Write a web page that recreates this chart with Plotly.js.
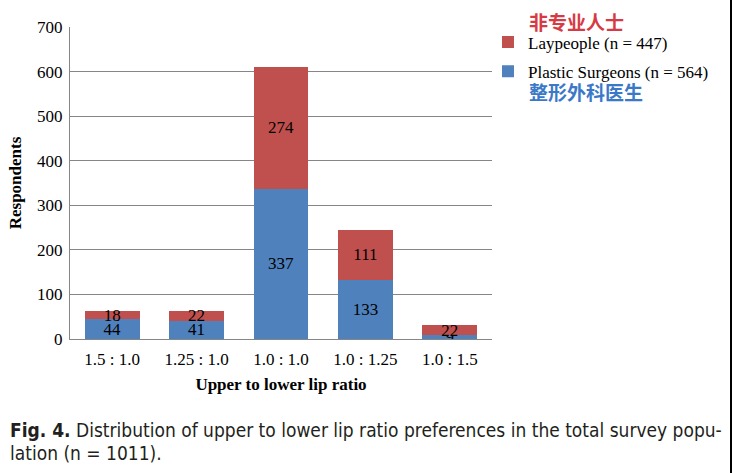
<!DOCTYPE html>
<html>
<head>
<meta charset="utf-8">
<script src="https://cdn.plot.ly/plotly-3.0.1.min.js"></script>
<style>
html,body{margin:0;padding:0;background:#000;}
#chart{width:730px;height:473px;background:#fff;}
</style>
</head>
<body>
<div id="chart"></div>
<script>
const categories = ["1.5 : 1.0", "1.25 : 1.0", "1.0 : 1.0", "1.0 : 1.25", "1.0 : 1.5"];
const surgeons = [44, 41, 337, 133, 9];
const laypeople = [18, 22, 274, 111, 22];
const surgeonsName = "Plastic Surgeons (n = 564)";
const laypeopleName = "Laypeople (n = 447)";
const captionLine1 = "<b>Fig. 4.</b> Distribution of upper to lower lip ratio preferences in the total survey popu-";
const captionLine2 = "lation (n = 1011).";

const serif = "Liberation Serif, Times New Roman, serif";
const narrow = "Liberation Sans Narrow, DejaVu Sans Condensed, Arial Narrow, sans-serif";

const traces = [
  {
    type: "bar", x: categories, y: surgeons, name: surgeonsName,
    marker: {color: "#4F81BD", line: {width: 0}},
    text: surgeons.map(String), textposition: "inside", insidetextanchor: "middle", textangle: 0,
    textfont: {family: serif, size: 17, color: "#000"}, constraintext: "none",
    legendgroup: "b", legendrank: 2, hoverinfo: "none"
  },
  {
    type: "bar", x: categories, y: laypeople, name: laypeopleName,
    marker: {color: "#C0504D", line: {width: 0}},
    text: laypeople.map(String), textposition: "inside", insidetextanchor: "middle", textangle: 0,
    textfont: {family: serif, size: 17, color: "#000"}, constraintext: "none",
    legendgroup: "a", legendrank: 1, hoverinfo: "none"
  }
];

const layout = {
  width: 730, height: 473,
  margin: {l: 70, r: 238, t: 27, b: 134},
  paper_bgcolor: "#fff", plot_bgcolor: "#fff",
  barmode: "stack", bargap: 0.35,
  uniformtext: {minsize: 17, mode: "show"},
  font: {family: serif, size: 17, color: "#000"},
  xaxis: {
    type: "category", showline: true, linecolor: "#868686", linewidth: 1,
    ticks: "", ticklabelstandoff: 5, tickfont: {family: serif, size: 17, color: "#000"},
    title: {text: "<b>Upper to lower lip ratio</b>", font: {family: serif, size: 17, color: "#000"}, standoff: 9},
    fixedrange: true
  },
  yaxis: {
    range: [0, 700], dtick: 100, showgrid: true, gridcolor: "#868686", gridwidth: 1,
    showline: true, linecolor: "#868686", linewidth: 1, zeroline: false,
    ticks: "", ticklabelstandoff: 3, tickfont: {family: serif, size: 17, color: "#000"},
    title: {text: "<b>Respondents</b>", font: {family: serif, size: 17, color: "#000"}, standoff: 11},
    fixedrange: true
  },
  showlegend: true,
  legend: {
    x: 0.9905, xanchor: "left", y: 1.008, yanchor: "top",
    traceorder: "grouped", tracegroupgap: 4,
    font: {family: serif, size: 17, color: "#000"},
    bgcolor: "rgba(0,0,0,0)"
  },
  annotations: [
    {text: "<b>非专业人士</b>", xref: "paper", yref: "paper", x: (527 - 70) / 422, y: (339 - 21) / 312,
     xanchor: "left", yanchor: "middle", showarrow: false,
     font: {family: "Noto Sans CJK SC, sans-serif", size: 19, color: "#D63A44"}},
    {text: "<b>整形外科医生</b>", xref: "paper", yref: "paper", x: (527 - 70) / 422, y: (339 - 91) / 312,
     xanchor: "left", yanchor: "middle", showarrow: false,
     font: {family: "Noto Sans CJK SC, sans-serif", size: 19, color: "#3A78C8"}},
    {text: captionLine1, xref: "paper", yref: "paper", x: (8 - 70) / 422, y: (339 - 430) / 312,
     xanchor: "left", yanchor: "middle", showarrow: false, align: "left",
     font: {family: narrow, size: 19, color: "#231F20"}},
    {text: captionLine2, xref: "paper", yref: "paper", x: (8 - 70) / 422, y: (339 - 453) / 312,
     xanchor: "left", yanchor: "middle", showarrow: false, align: "left",
     font: {family: narrow, size: 19, color: "#231F20"}}
  ]
};

Plotly.newPlot("chart", traces, layout, {displayModeBar: false, staticPlot: true});
</script>
</body>
</html>
